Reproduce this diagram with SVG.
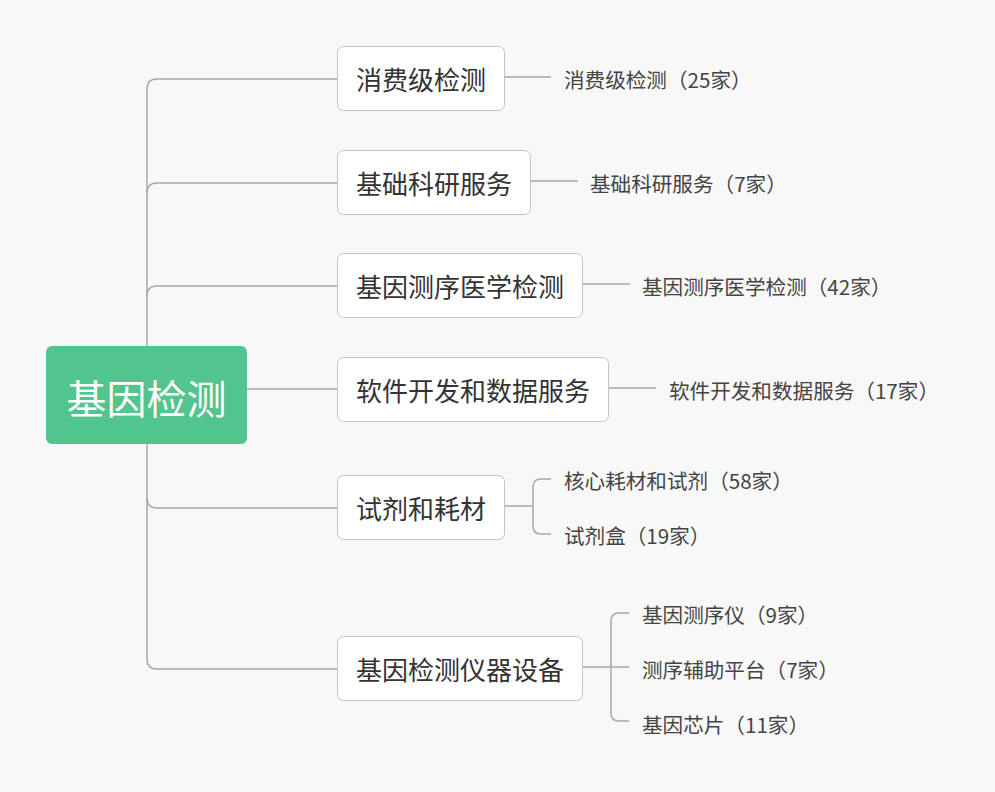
<svg xmlns="http://www.w3.org/2000/svg" width="995" height="792" viewBox="0 0 995 792">
<style>
.bg{fill:#f8f8f8}
.box{fill:#ffffff;stroke:#c4c4c4;stroke-width:1}
.t{font-family:"Noto Sans CJK SC","Noto Sans",sans-serif;fill:#333333;font-size:26px;dominant-baseline:central}
.l{font-family:"Noto Sans CJK SC","Noto Sans",sans-serif;fill:#444444;font-size:20.6px;dominant-baseline:central}
.c{fill:none;stroke:#a8a8a8;stroke-width:1.5}
</style>
<rect class="bg" x="0" y="0" width="995" height="792"/>
<g id="connectors">
<path class="c" d="M337 79 H157 Q147 79 147 89 V659 Q147 669 157 669 H337"/>
<path class="c" d="M337 183 H157 Q147 183 147 193"/>
<path class="c" d="M337 286 H157 Q147 286 147 296"/>
<path class="c" d="M247 389 H337"/>
<path class="c" d="M337 508 H157 Q147 508 147 498"/>
<path class="c" d="M505 77 H551"/>
<path class="c" d="M531 181 H578"/>
<path class="c" d="M583 284 H630"/>
<path class="c" d="M609 388 H656"/>
<path class="c" d="M505 506 H533"/>
<path class="c" d="M551 479 H541 Q533 479 533 487 V526 Q533 534 541 534 H551"/>
<path class="c" d="M583 667 H629"/>
<path class="c" d="M629 613 H619 Q611 613 611 621 V713 Q611 721 619 721 H629"/>
</g>
<g id="root">
<rect x="46" y="346" width="201" height="98" rx="6" fill="#52c48d"/>
<text x="146.5" y="397" font-family="Noto Sans CJK SC,Noto Sans,sans-serif" font-size="40" fill="#ffffff" text-anchor="middle" dominant-baseline="central">基因检测</text>
</g>
<g id="n1">
<rect class="box" x="337.5" y="46.5" width="167" height="64" rx="6"/>
<text class="t" x="421" y="78.5" text-anchor="middle">消费级检测</text>
</g>
<g id="n2">
<rect class="box" x="337.5" y="150.5" width="193" height="64" rx="6"/>
<text class="t" x="434" y="182.5" text-anchor="middle">基础科研服务</text>
</g>
<g id="n3">
<rect class="box" x="337.5" y="253.5" width="245" height="64" rx="6"/>
<text class="t" x="460" y="285.5" text-anchor="middle">基因测序医学检测</text>
</g>
<g id="n4">
<rect class="box" x="337.5" y="357.5" width="271" height="64" rx="6"/>
<text class="t" x="473" y="389.5" text-anchor="middle">软件开发和数据服务</text>
</g>
<g id="n5">
<rect class="box" x="337.5" y="475.5" width="167" height="64" rx="6"/>
<text class="t" x="421" y="507.5" text-anchor="middle">试剂和耗材</text>
</g>
<g id="n6">
<rect class="box" x="337.5" y="636.5" width="245" height="64" rx="6"/>
<text class="t" x="460" y="668.5" text-anchor="middle">基因检测仪器设备</text>
</g>
<g id="leaves">
<text class="l" x="564" y="79">消费级检测（25家）</text>
<text class="l" x="590" y="183">基础科研服务（7家）</text>
<text class="l" x="642" y="286">基因测序医学检测（42家）</text>
<text class="l" x="669" y="390">软件开发和数据服务（17家）</text>
<text class="l" x="564" y="480">核心耗材和试剂（58家）</text>
<text class="l" x="564" y="535">试剂盒（19家）</text>
<text class="l" x="642" y="614">基因测序仪（9家）</text>
<text class="l" x="642" y="669">测序辅助平台（7家）</text>
<text class="l" x="642" y="724">基因芯片（11家）</text>
</g>
</svg>
